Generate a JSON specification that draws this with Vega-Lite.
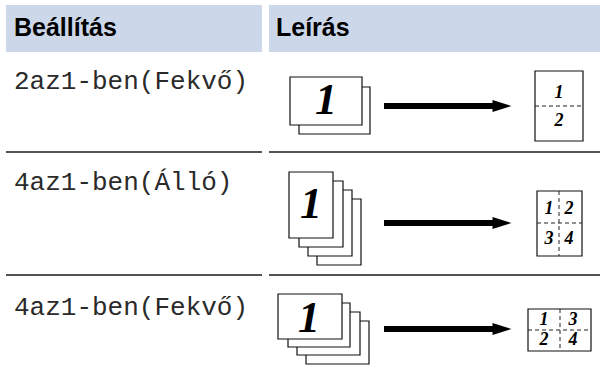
{
  "$schema": "https://vega.github.io/schema/vega-lite/v6.json",
  "width": 600,
  "height": 374,
  "padding": 0,
  "autosize": {"type": "none"},
  "config": {"view": {"stroke": null}, "axis": {"disable": true}},
  "datasets": {
    "header": [
      {"x": 6, "x2": 262, "y": 5, "y2": 52},
      {"x": 269, "x2": 600, "y": 5, "y2": 52}
    ],
    "separators": [
      {"x": 6, "x2": 262, "y": 152},
      {"x": 269, "x2": 600, "y": 152},
      {"x": 6, "x2": 262, "y": 275},
      {"x": 269, "x2": 600, "y": 275}
    ],
    "pages": [
      {"x": 299, "x2": 370, "y": 87, "y2": 134},
      {"x": 290, "x2": 362, "y": 77, "y2": 125},
      {"x": 535, "x2": 583, "y": 71, "y2": 141},
      {"x": 317, "x2": 361, "y": 199, "y2": 265},
      {"x": 308, "x2": 352, "y": 190, "y2": 256},
      {"x": 299, "x2": 343, "y": 181, "y2": 247},
      {"x": 289, "x2": 333, "y": 172, "y2": 238},
      {"x": 537, "x2": 582, "y": 191, "y2": 256},
      {"x": 306, "x2": 369, "y": 321, "y2": 364},
      {"x": 297, "x2": 360, "y": 312, "y2": 355},
      {"x": 288, "x2": 350, "y": 303, "y2": 347},
      {"x": 278, "x2": 342, "y": 294, "y2": 339},
      {"x": 528, "x2": 591, "y": 309, "y2": 351}
    ],
    "arrows": [
      {"x": 384, "x2": 495, "y": 106, "head": 502},
      {"x": 384, "x2": 495, "y": 223, "head": 502},
      {"x": 384, "x2": 495, "y": 329, "head": 502}
    ],
    "dashes": [
      {"x": 535, "x2": 583, "y": 106, "y2": 106},
      {"x": 537, "x2": 582, "y": 223, "y2": 223},
      {"x": 559, "x2": 559, "y": 191, "y2": 256},
      {"x": 528, "x2": 591, "y": 330, "y2": 330},
      {"x": 560, "x2": 560, "y": 309, "y2": 351}
    ],
    "headers": [
      {"x": 14, "y": 36, "t": "Beállítás"},
      {"x": 276, "y": 36, "t": "Leírás"}
    ],
    "labels": [
      {"x": 14, "y": 89, "t": "2az1-ben(Fekvő)"},
      {"x": 14, "y": 190, "t": "4az1-ben(Álló)"},
      {"x": 14, "y": 315, "t": "4az1-ben(Fekvő)"}
    ],
    "bigones": [
      {"x": 326, "y": 101, "t": "1"},
      {"x": 311, "y": 205, "t": "1"},
      {"x": 309, "y": 319, "t": "1"}
    ],
    "digits": [
      {"x": 559, "y": 93, "t": "1"},
      {"x": 559, "y": 121, "t": "2"},
      {"x": 549, "y": 209, "t": "1"},
      {"x": 569, "y": 209, "t": "2"},
      {"x": 549, "y": 239, "t": "3"},
      {"x": 569, "y": 239, "t": "4"},
      {"x": 544, "y": 320, "t": "1"},
      {"x": 573, "y": 320, "t": "3"},
      {"x": 544, "y": 340, "t": "2"},
      {"x": 573, "y": 340, "t": "4"}
    ]
  },
  "layer": [
    {
      "data": {"name": "header"},
      "mark": {"type": "rect", "fill": "#CCD8E9"},
      "encoding": {
        "x": {"field": "x", "type": "quantitative", "scale": {"domain": [0, 600]}},
        "x2": {"field": "x2"},
        "y": {"field": "y", "type": "quantitative", "scale": {"domain": [0, 374], "reverse": true}},
        "y2": {"field": "y2"}
      }
    },
    {
      "data": {"name": "separators"},
      "mark": {"type": "rule", "stroke": "#1a1a1a", "strokeWidth": 1.5},
      "encoding": {
        "x": {"field": "x", "type": "quantitative", "scale": {"domain": [0, 600]}},
        "x2": {"field": "x2"},
        "y": {"field": "y", "type": "quantitative", "scale": {"domain": [0, 374], "reverse": true}}
      }
    },
    {
      "data": {"name": "pages"},
      "mark": {"type": "rect", "fill": "#ffffff", "stroke": "#111111", "strokeWidth": 1.2},
      "encoding": {
        "x": {"field": "x", "type": "quantitative", "scale": {"domain": [0, 600]}},
        "x2": {"field": "x2"},
        "y": {"field": "y", "type": "quantitative", "scale": {"domain": [0, 374], "reverse": true}},
        "y2": {"field": "y2"}
      }
    },
    {
      "data": {"name": "arrows"},
      "mark": {"type": "rule", "stroke": "#000000", "strokeWidth": 6},
      "encoding": {
        "x": {"field": "x", "type": "quantitative", "scale": {"domain": [0, 600]}},
        "x2": {"field": "x2"},
        "y": {"field": "y", "type": "quantitative", "scale": {"domain": [0, 374], "reverse": true}}
      }
    },
    {
      "data": {"name": "arrows"},
      "mark": {"type": "point", "shape": "M-1,-0.63L1,0L-1,0.63Z", "filled": true, "fill": "#000000", "opacity": 1, "size": 361},
      "encoding": {
        "x": {"field": "head", "type": "quantitative", "scale": {"domain": [0, 600]}},
        "y": {"field": "y", "type": "quantitative", "scale": {"domain": [0, 374], "reverse": true}}
      }
    },
    {
      "data": {"name": "dashes"},
      "mark": {"type": "rule", "stroke": "#222222", "strokeWidth": 1, "strokeDash": [4, 3]},
      "encoding": {
        "x": {"field": "x", "type": "quantitative", "scale": {"domain": [0, 600]}},
        "x2": {"field": "x2"},
        "y": {"field": "y", "type": "quantitative", "scale": {"domain": [0, 374], "reverse": true}},
        "y2": {"field": "y2"}
      }
    },
    {
      "data": {"name": "headers"},
      "mark": {"type": "text", "font": "Liberation Sans", "fontWeight": "bold", "fontSize": 25, "align": "left", "baseline": "alphabetic", "color": "#000000"},
      "encoding": {
        "x": {"field": "x", "type": "quantitative", "scale": {"domain": [0, 600]}},
        "y": {"field": "y", "type": "quantitative", "scale": {"domain": [0, 374], "reverse": true}},
        "text": {"field": "t"}
      }
    },
    {
      "data": {"name": "labels"},
      "mark": {"type": "text", "font": "Liberation Mono", "fontSize": 26, "align": "left", "baseline": "alphabetic", "color": "#2a2a2a"},
      "encoding": {
        "x": {"field": "x", "type": "quantitative", "scale": {"domain": [0, 600]}},
        "y": {"field": "y", "type": "quantitative", "scale": {"domain": [0, 374], "reverse": true}},
        "text": {"field": "t"}
      }
    },
    {
      "data": {"name": "bigones"},
      "mark": {"type": "text", "font": "Liberation Serif", "fontWeight": "bold", "fontStyle": "italic", "fontSize": 44, "align": "center", "baseline": "middle", "color": "#000000"},
      "encoding": {
        "x": {"field": "x", "type": "quantitative", "scale": {"domain": [0, 600]}},
        "y": {"field": "y", "type": "quantitative", "scale": {"domain": [0, 374], "reverse": true}},
        "text": {"field": "t"}
      }
    },
    {
      "data": {"name": "digits"},
      "mark": {"type": "text", "font": "Liberation Serif", "fontWeight": "bold", "fontStyle": "italic", "fontSize": 18, "align": "center", "baseline": "middle", "color": "#000000"},
      "encoding": {
        "x": {"field": "x", "type": "quantitative", "scale": {"domain": [0, 600]}},
        "y": {"field": "y", "type": "quantitative", "scale": {"domain": [0, 374], "reverse": true}},
        "text": {"field": "t"}
      }
    }
  ]
}
